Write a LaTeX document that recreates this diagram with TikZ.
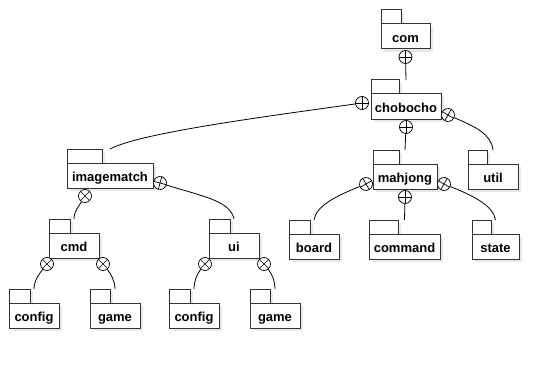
\documentclass[tikz,border=0pt]{standalone}
\usepackage{fontspec}
\setmainfont{Liberation Sans}
\usetikzlibrary{positioning,shadows}

\begin{document}
\begin{tikzpicture}[
  x=1pt, y=-1pt,
  font=\bfseries\fontsize{13}{15}\selectfont,
  shade/.style = {drop shadow={shadow xshift=3pt, shadow yshift=-3pt,
                  fill=black!9, opacity=1}},
  tab/.style   = {draw=black!80, line width=1pt, fill=white, shade,
                  minimum height=14pt, minimum width=#1, inner sep=0pt,
                  outer sep=0pt, anchor=north west},
  pkg/.style   = {draw=black!80, line width=1pt, fill=white, shade,
                  minimum height=25pt, minimum width=#1, inner sep=0pt,
                  outer sep=0pt, text height=11.5pt, text depth=0pt,
                  anchor=north west},
  joint/.style = {circle, draw, fill=white, line width=0.7pt,
                  minimum size=13pt, inner sep=0pt},
  link/.style  = {draw, line width=0.8pt}
]
\useasboundingbox (0,0) rectangle (560,369);

% packages: name / tab corner / tab width / body width / label
\foreach \n/\x/\y/\tw/\bw/\t in {
    com/381/10/20/49/com,
    cho/371/80/28/70/chobocho,
    img/67/149/35/86/imagematch,
    cmd/49/219/21/50/cmd,
    ui/209/219/21/50/ui,
    cmdcfg/9/289/21/50/config,
    cmdgame/90/289/20/50/game,
    uicfg/169/289/21/50/config,
    uigame/250/289/20/50/game,
    mahjong/373/150/26/64/mahjong,
    util/468/150/19/50/util,
    board/289/220/21/50/board,
    command/369/220/29/71/command,
    state/472/220/19/47/state}{
  \node[tab=\tw pt] (\n tab) at (\x,\y) {};
  \node[pkg=\bw pt] (\n) at (\n tab.south west) {\t};
  \coordinate (\n top) at (\n.north |- \n tab.north);
}

% circle-plus ends, turned along their connector
\foreach \n/\p/\a in {
    mcom/{405.5,57}/0, mchoL/{362,103}/0, mchoB/{406,127}/0,
    mchoR/{448,115}/-30, mimgR/{160,183}/-15, mimgB/{85,196}/45,
    mcmdL/{47,264}/45, mcmdR/{103,264}/45,
    muiL/{205,264}/45, muiR/{264,264}/45,
    mmahL/{366,184}/30, mmahB/{405,197}/0, mmahR/{444,184}/-30}{
  \node[joint, rotate=\a] (\n) at (\p) {};
  \draw[line width=0.7pt] (\n.north) -- (\n.south) (\n.west) -- (\n.east);
}

% connectors
\draw[link] (mcom) -- (chotop);
\draw[link] (mchoL) .. controls +(-100,14) and +(30,-16) .. (imgtop);
\draw[link] (mchoB) -- (mahjongtop);
\draw[link] (mchoR) .. controls +(28,12) and +(-2,-16) .. (utiltop);

\draw[link] (mimgB) .. controls +(-6,10) and +(0,-8) .. (cmdtop);
\draw[link] (mimgR) .. controls +(45,14) and +(-4,-18) .. (uitop);

\draw[link] (mcmdL) .. controls +(-8,10) and +(0,-8) .. (cmdcfgtop);
\draw[link] (mcmdR) .. controls +(8,10) and +(0,-8) .. (cmdgametop);
\draw[link] (muiL) .. controls +(-8,10) and +(0,-8) .. (uicfgtop);
\draw[link] (muiR) .. controls +(8,10) and +(0,-8) .. (uigametop);

\draw[link] (mmahL) .. controls +(-30,12) and +(2,-14) .. (boardtop);
\draw[link] (mmahB) -- (commandtop);
\draw[link] (mmahR) .. controls +(30,12) and +(-2,-14) .. (statetop);

\end{tikzpicture}
\end{document}
